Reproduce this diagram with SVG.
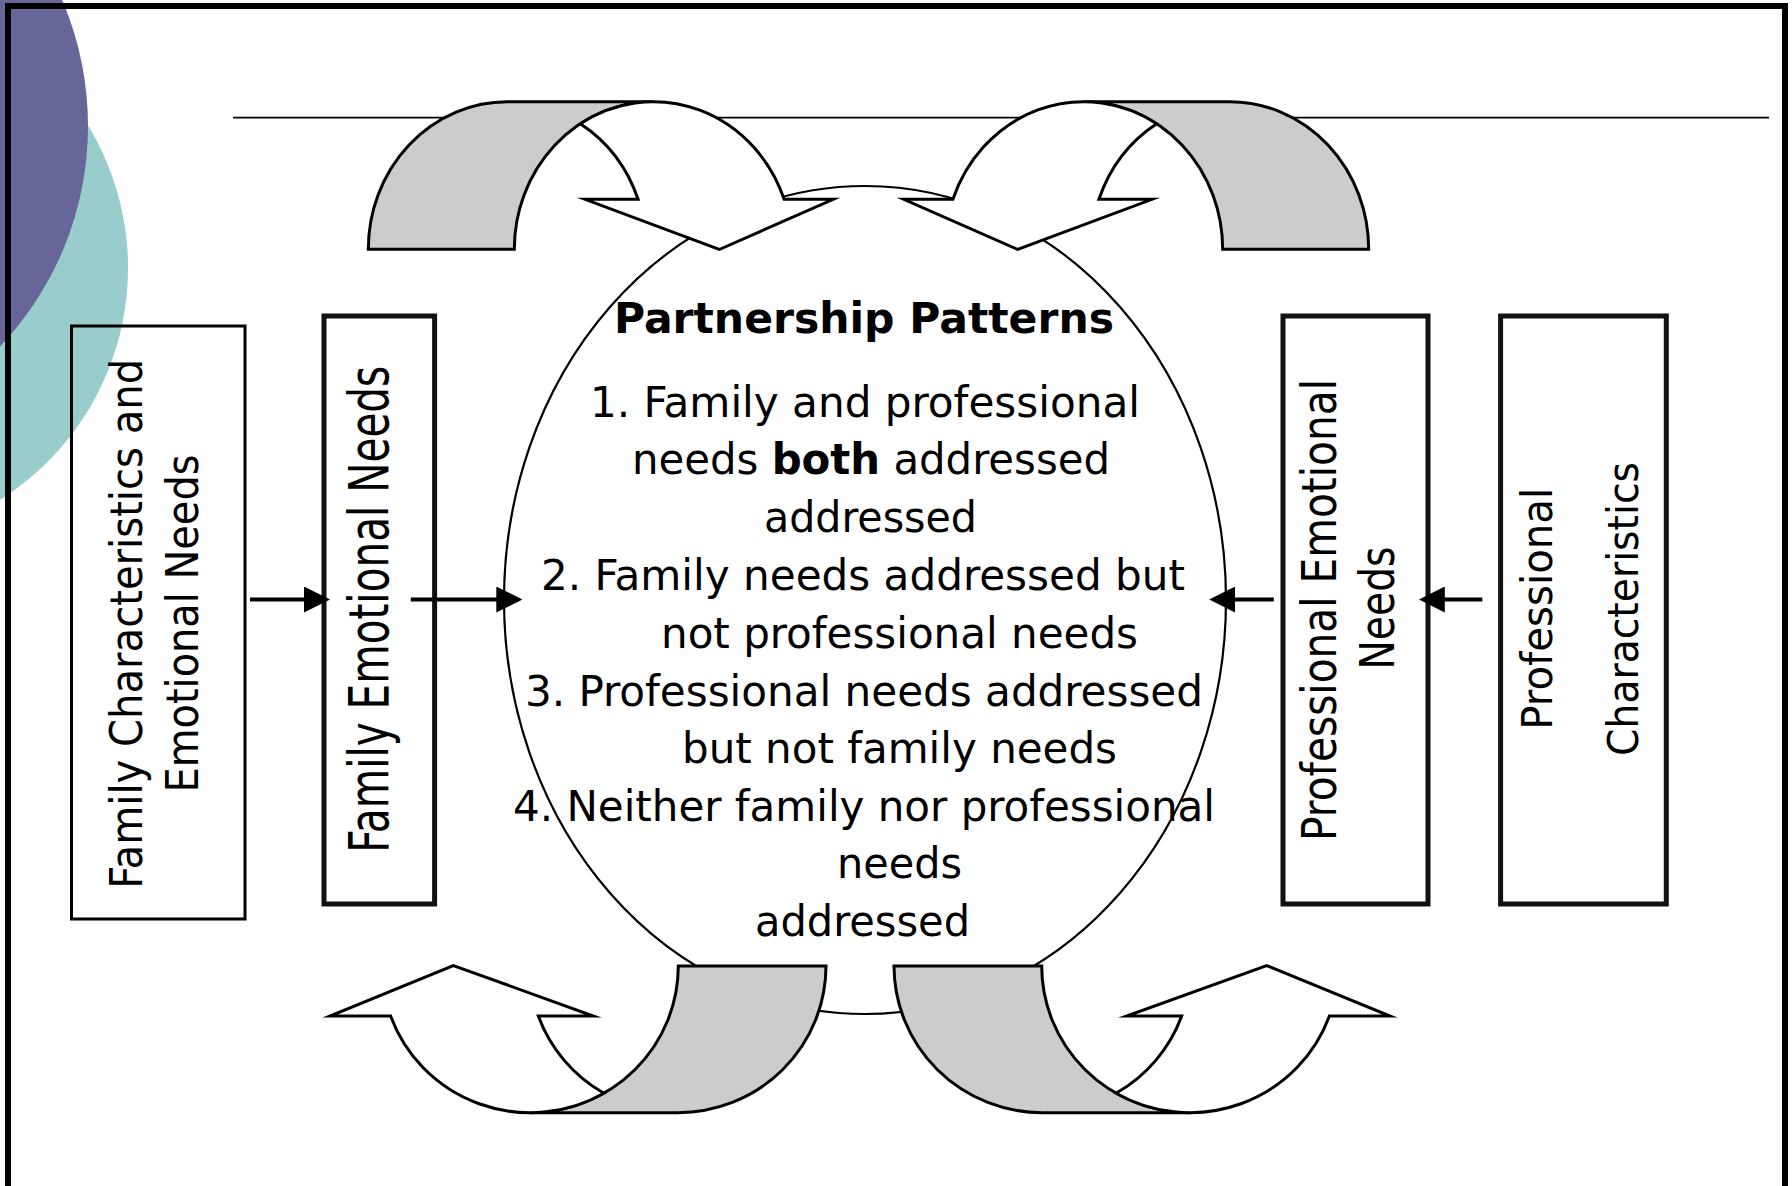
<svg xmlns="http://www.w3.org/2000/svg" width="1792" height="1186" viewBox="0 0 1792 1186">
<defs>
<style>
.frame{fill:none;stroke:#000;stroke-width:6}
.rule{stroke:#000;stroke-width:1.8}
.oval{fill:#fff;stroke:#000;stroke-width:2.2}
.back{fill:#ccc;stroke:#000;stroke-width:3;stroke-miterlimit:10}
.front{fill:#fff;stroke:#000;stroke-width:3;stroke-miterlimit:10}
.boxA{fill:none;stroke:#000;stroke-width:3}
.box{fill:none;stroke:#111;stroke-width:5}
.vt{font-family:"DejaVu Sans",Verdana,sans-serif;font-size:40px;fill:#000;text-anchor:middle}
.ct{font-family:"DejaVu Sans Condensed","DejaVu Sans",sans-serif;font-stretch:condensed;font-size:42px;fill:#000}
.title{font-family:"DejaVu Sans Condensed","DejaVu Sans",sans-serif;font-stretch:condensed;font-size:43px;font-weight:bold;fill:#000}
.b{font-weight:bold}
.conn{stroke:#000;stroke-width:4;fill:none;marker-end:url(#ah)}
</style>
<marker id="ah" markerUnits="userSpaceOnUse" markerWidth="26" markerHeight="26" viewBox="0 0 26 26" refX="1" refY="13" orient="auto">
<path d="M0,0 L26,13 L0,26 Z" fill="#000"/>
</marker>
<g id="uTop">
<path class="back" d="M368.3,249.3 A139,147.6 0 0 1 507.3,101.7 L653.3,101.7 A139,147.6 0 0 0 514.3,249.3 Z"/>
<path class="front" d="M580.3,123.7 A139,147.6 0 0 1 784.1,199.3 L833.3,199.3 L719.3,249.5 L585,199.3 L638.1,199.3 A139,147.6 0 0 0 580.3,123.7 Z"/>
</g>
<g id="uBottom">
<path class="back" d="M826,966 A148.3,146.7 0 0 1 677.7,1112.7 L530,1112.7 A148.3,146.7 0 0 0 678.3,966 Z"/>
<path class="front" d="M603.9,1093.2 A148.3,146.7 0 0 1 390.6,1016 L330,1016 L453.3,965.5 L593.3,1016 L538.3,1016 A148.3,146.7 0 0 0 603.9,1093.2 Z"/>
</g>
</defs>

<rect x="0" y="0" width="1792" height="1186" fill="#fff"/>

<g id="decoration">
<circle cx="-146" cy="268" r="274" fill="#99cccc"/>
<circle cx="-232" cy="126" r="320" fill="#666699"/>
<rect class="frame" x="8" y="6" width="1777" height="1300"/>
<line class="rule" x1="233" y1="117.7" x2="1769" y2="117.7"/>
</g>

<g id="node-partnership-patterns">
<ellipse class="oval" cx="865" cy="600" rx="361" ry="414"/>
</g>

<g id="arrow-top-left"><use href="#uTop"/></g>
<g id="arrow-top-right"><use href="#uTop" transform="translate(1737,0) scale(-1,1)"/></g>
<g id="arrow-bottom-left"><use href="#uBottom"/></g>
<g id="arrow-bottom-right"><use href="#uBottom" transform="translate(1720,0) scale(-1,1)"/></g>

<g id="node-partnership-text">
<text class="title" x="614" y="333" textLength="500" lengthAdjust="spacingAndGlyphs">Partnership Patterns</text>
<text class="ct" x="590" y="416.5" textLength="550" lengthAdjust="spacingAndGlyphs">1. Family and professional</text>
<text class="ct" x="632" y="474" textLength="478" lengthAdjust="spacingAndGlyphs">needs <tspan class="b">both</tspan> addressed</text>
<text class="ct" x="764" y="532" textLength="213" lengthAdjust="spacingAndGlyphs">addressed</text>
<text class="ct" x="541" y="590" textLength="644" lengthAdjust="spacingAndGlyphs">2. Family needs addressed but</text>
<text class="ct" x="661" y="648" textLength="477" lengthAdjust="spacingAndGlyphs">not professional needs</text>
<text class="ct" x="525" y="706" textLength="678" lengthAdjust="spacingAndGlyphs">3. Professional needs addressed</text>
<text class="ct" x="682" y="763" textLength="435" lengthAdjust="spacingAndGlyphs">but not family needs</text>
<text class="ct" x="513" y="820.5" textLength="702" lengthAdjust="spacingAndGlyphs">4. Neither family nor professional</text>
<text class="ct" x="837" y="878" textLength="125" lengthAdjust="spacingAndGlyphs">needs</text>
<text class="ct" x="755" y="935.5" textLength="215" lengthAdjust="spacingAndGlyphs">addressed</text>
</g>

<g id="node-family-characteristics">
<rect class="boxA" x="71.5" y="326" width="173.5" height="593"/>
<text class="vt" transform="translate(142.3,623.8) scale(1.127,1) rotate(-90)" textLength="530" lengthAdjust="spacingAndGlyphs">Family Characteristics and</text>
<text class="vt" transform="translate(198,623.5) scale(1.127,1) rotate(-90)" textLength="338" lengthAdjust="spacingAndGlyphs">Emotional Needs</text>
</g>

<g id="node-family-emotional-needs">
<rect class="box" x="324" y="316" width="110.6" height="588"/>
<text class="vt" transform="translate(387.7,609.3) scale(1.4,1) rotate(-90)" textLength="487" lengthAdjust="spacingAndGlyphs">Family Emotional Needs</text>
</g>

<g id="node-professional-emotional-needs">
<rect class="box" x="1283" y="316" width="145" height="588"/>
<text class="vt" transform="translate(1336.2,610) scale(1.185,1) rotate(-90)" textLength="462" lengthAdjust="spacingAndGlyphs">Professional Emotional</text>
<text class="vt" transform="translate(1393.8,608) scale(1.185,1) rotate(-90)" textLength="123" lengthAdjust="spacingAndGlyphs">Needs</text>
</g>

<g id="node-professional-characteristics">
<rect class="box" x="1500.6" y="316" width="165.7" height="588"/>
<text class="vt" transform="translate(1551.5,608.8) scale(1.08,1) rotate(-90)" textLength="242" lengthAdjust="spacingAndGlyphs">Professional</text>
<text class="vt" transform="translate(1638,609) scale(1.07,1) rotate(-90)" textLength="294" lengthAdjust="spacingAndGlyphs">Characteristics</text>
</g>

<g id="connectors">
<line class="conn" x1="250" y1="599.5" x2="305" y2="599.5"/>
<line class="conn" x1="410.8" y1="599.5" x2="497.3" y2="599.5"/>
<line class="conn" x1="1273.8" y1="599.5" x2="1234.2" y2="599.5"/>
<line class="conn" x1="1482.3" y1="599.5" x2="1443.8" y2="599.5"/>
</g>
</svg>
